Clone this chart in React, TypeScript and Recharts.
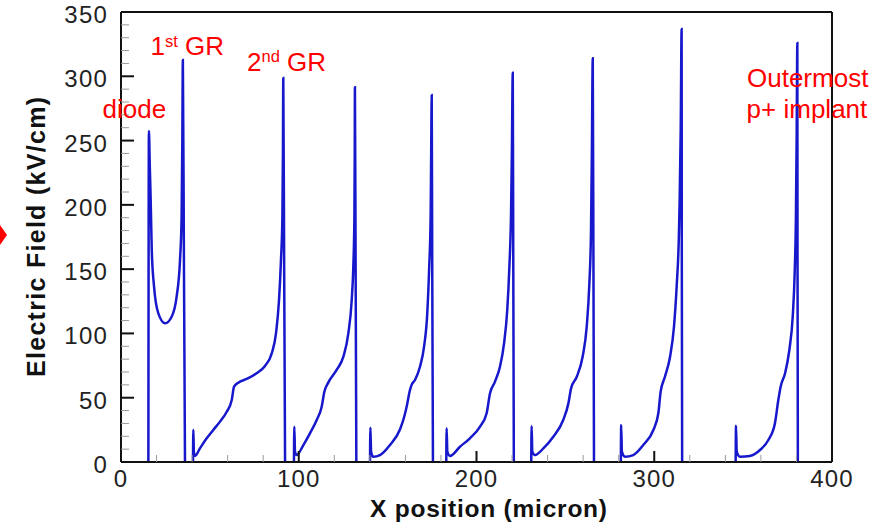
import React from 'react';
import { LineChart, Line, XAxis, YAxis, ReferenceLine } from 'recharts';

// Electric field along the surface, x in micron, E in kV/cm.
// Each block runs from the field drop at one ring to the peak at the next one.
const diodeX = [15.4, 15.7, 16.2, 16.7, 17.3, 18.6, 21, 24.8, 28.5, 31.3, 33.2, 34.1, 34.5, 34.8, 35.4, 36];
const diodeE = [0, 257.5, 230, 203.8, 164.9, 136.3, 115.6, 107.9, 113, 128.6, 157.1, 190.8, 250, 312.7, 156, 0];

const gap1X = [40.5, 40.7, 41.0, 41.6, 44.4, 48.2, 51.9, 55.7, 59.5, 62.3, 63.6, 66, 70.7, 76.3, 81, 84.8, 87.2, 88.9, 90, 90.8, 91.1, 91.3, 91.8, 92.3];
const gap1E = [0, 25, 8, 4.7, 10.6, 18.4, 24.9, 31.4, 39.1, 48.2, 58.6, 61.7, 64.6, 69, 74.7, 84.5, 100, 126, 157, 190.8, 240, 298.6, 150, 0];

const gap2X = [97.3, 97.5, 97.9, 98.8, 102.6, 106.3, 110.1, 112.9, 114.4, 116.6, 121.3, 125.1, 127.9, 129.8, 130.7, 131.3, 131.5, 131.6, 132, 132.4];
const gap2E = [0, 27.5, 8, 5.4, 13.2, 22.3, 32.7, 43, 54.7, 61.7, 71.6, 81.9, 100, 126, 151.9, 190, 240, 291.4, 150, 0];

const gap3X = [140.1, 140.3, 140.7, 141.9, 145.7, 151.3, 157, 159.3, 161, 162.4, 163.5, 165.4, 168.2, 170.5, 172.3, 173.4, 174.2, 174.5, 174.8, 175.1, 175.5];
const gap3E = [0, 26.7, 8, 4.1, 5.4, 13.2, 25.5, 35, 45, 55, 60, 63.8, 74.1, 89.7, 115.6, 151.9, 190.8, 240, 285.5, 150, 0];

const gap4X = [183.0, 183.2, 183.6, 185.1, 190.7, 196.3, 202, 205.7, 207.6, 210.4, 213.2, 215.5, 217.3, 218.5, 219.4, 219.9, 220.4, 220.7, 221];
const gap4E = [0, 26.2, 8, 4.7, 11.9, 18.4, 27.5, 37.9, 53.4, 62.5, 74.1, 92.3, 118.2, 151.9, 190.8, 240, 302.8, 150, 0];

const gap5X = [230.8, 231, 231.4, 232.9, 237.6, 243.2, 248.8, 251.7, 253.2, 256.4, 259.7, 262, 263.5, 264.4, 264.9, 265.4, 265.8, 266.1];
const gap5E = [0, 28, 8, 5.4, 10.6, 19.7, 32.7, 45.6, 57.3, 66.3, 81.9, 105.2, 139, 177.9, 240, 314, 150, 0];

const gap6X = [281.2, 281.4, 281.8, 283.5, 288.2, 293.8, 299.5, 302.3, 303.6, 306, 308.9, 311.1, 312.6, 313.8, 314.3, 314.9, 315.4, 315.5, 315.7];
const gap6E = [0, 28.8, 8, 4.1, 5.4, 13.2, 24.9, 37.9, 54.7, 66.3, 81.9, 105.2, 136.3, 172.7, 203.8, 260, 336.8, 160, 0];

const gap7X = [345.8, 346, 346.4, 348.2, 353.8, 359.5, 364.2, 367.9, 369.8, 371.1, 373.6, 376, 377.9, 379, 379.7, 380.1, 380.5, 380.6, 380.8];
const gap7E = [0, 28.2, 8, 4.1, 4.7, 9.3, 17.1, 30.1, 48.2, 58.6, 69, 87.1, 113, 146.8, 190.8, 250, 325.9, 160, 0];

const xTicks = [0, 20, 40, 60, 80, 100, 120, 140, 160, 180, 200, 220, 240, 260, 280, 300, 320, 340, 360, 380, 400];
const yTicks = [
  0, 10, 20, 30, 40, 50, 60, 70, 80, 90, 100, 110, 120, 130, 140, 150, 160, 170,
  180, 190, 200, 210, 220, 230, 240, 250, 260, 270, 280, 290, 300, 310, 320, 330, 340, 350,
];

const blocks: [number[], number[]][] = [
  [diodeX, diodeE], [gap1X, gap1E], [gap2X, gap2E], [gap3X, gap3E],
  [gap4X, gap4E], [gap5X, gap5E], [gap6X, gap6E], [gap7X, gap7E],
];

// null row after every block so the zero stretches stay hidden under the axis
const rows = blocks.flatMap(([xs, es]) => [
  ...xs.map((x, i) => ({ x, e: es[i] as number | null })),
  { x: xs[xs.length - 1] + 0.05, e: null },
]);

const FONT = '"Liberation Sans", Arial, sans-serif';

const YTick = ({ x, y, payload }: any) => {
  const v = payload.value;
  const major = v % 50 === 0;
  return (
    <g>
      <line x1={x} x2={x + (major ? 13 : 8)} y1={y} y2={y}
        stroke={major ? '#111' : '#999'} strokeWidth={major ? 2 : 1} />
      {major && (
        <text x={x - 13} y={y + 11} textAnchor="end" fontFamily={FONT}
          fontSize={24} letterSpacing={1.2} fill="#222">{v}</text>
      )}
    </g>
  );
};

const XTick = ({ x, y, payload }: any) => {
  const v = payload.value;
  const major = v % 100 === 0;
  return (
    <g>
      <line x1={x} x2={x} y1={y} y2={y - (major ? 11 : 7)}
        stroke={major ? '#111' : '#999'} strokeWidth={major ? 2 : 1} />
      {major && (
        <text x={x} y={y + 25} textAnchor="middle" fontFamily={FONT}
          fontSize={24} letterSpacing={1.2} fill="#222">{v}</text>
      )}
    </g>
  );
};

export default function App() {
  return (
    <div style={{ position: 'absolute', left: 0, top: 0, width: 884, height: 525, background: '#fff' }}>
      <LineChart width={884} height={525} data={rows}
        margin={{ top: 12, right: 52, left: 61, bottom: 33 }}>
        <XAxis dataKey="x" type="number" domain={[0, 400]} ticks={xTicks} interval={0}
          tick={<XTick />} tickLine={false} tickSize={0} tickMargin={0} height={30}
          axisLine={{ stroke: '#111', strokeWidth: 2 }} allowDataOverflow />
        <YAxis type="number" domain={[0, 350]} ticks={yTicks} interval={0}
          tick={<YTick />} tickLine={false} tickSize={0} tickMargin={0} width={60}
          axisLine={{ stroke: '#111', strokeWidth: 2 }} allowDataOverflow />
        <ReferenceLine y={350} stroke="#111" strokeWidth={2} />
        <ReferenceLine x={400} stroke="#111" strokeWidth={2} />
        <Line dataKey="e" type="monotoneX" stroke="#1717cc" strokeWidth={2.5}
          dot={false} activeDot={false} isAnimationActive={false} />
      </LineChart>

      <svg width={884} height={525} style={{ position: 'absolute', left: 0, top: 0, pointerEvents: 'none' }}>
        <polygon points="0,225 7,235 0,245" fill="#ff0000" />
        <text x={44.5} y={237} transform="rotate(-90 44.5 237)" textAnchor="middle"
          fontFamily={FONT} fontWeight="bold" fontSize={25} textLength={280}
          lengthAdjust="spacing" fill="#111">Electric Field (kV/cm)</text>
        <text x={488.5} y={517} textAnchor="middle" fontFamily={FONT} fontWeight="bold"
          fontSize={24.5} textLength={237} lengthAdjust="spacing" fill="#111">X position (micron)</text>

        <g fontFamily={FONT} fontSize={26} fill="#ff0000">
          <text x={102.5} y={118}>diode</text>
          <text x={150.5} y={55}>
            1<tspan fontSize={16.5} dy={-8.5}>st</tspan><tspan dy={8.5}> GR</tspan>
          </text>
          <text x={247} y={70.5}>
            2<tspan fontSize={16.5} dy={-8.5}>nd</tspan><tspan dy={8.5}> GR</tspan>
          </text>
          <text x={747} y={87}>Outermost</text>
          <text x={746.6} y={118}>p+ implant</text>
        </g>
      </svg>
    </div>
  );
}
